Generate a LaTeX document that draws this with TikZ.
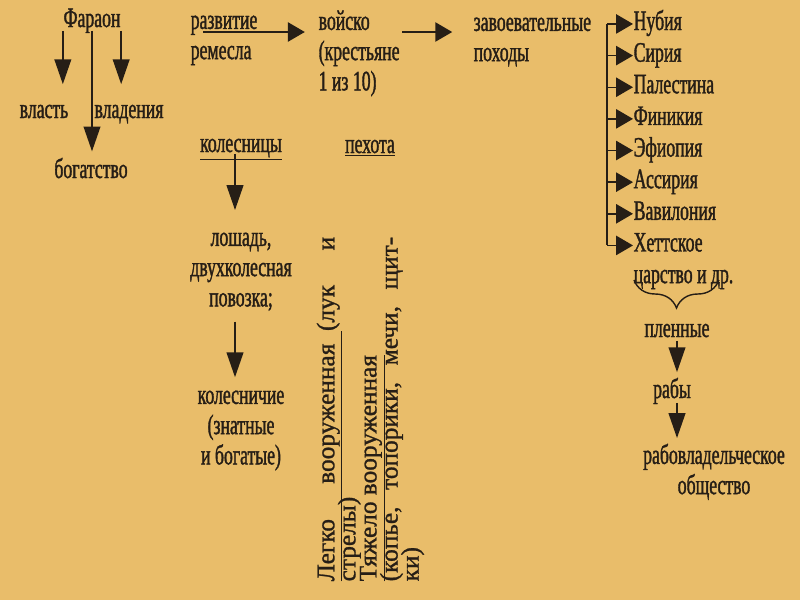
\documentclass[tikz,border=0pt]{standalone}
\usepackage{fontspec}
\setmainfont{Liberation Serif}[FakeStretch=0.63,FakeBold=1.3]
\newfontfamily\vertfont{Liberation Serif}[FakeBold=1]
\usetikzlibrary{arrows.meta,decorations.pathreplacing}
\definecolor{paper}{RGB}{233,189,106}
\definecolor{ink}{RGB}{38,30,22}
\tikzset{
  txt/.style={inner sep=0pt, font=\fontsize{20}{21.5}\selectfont, execute at begin node=\strut, execute at end node=\strut},
  hto/.style={-{Triangle[length=0.42cm,width=0.48cm]}}
}

\begin{document}
\begin{tikzpicture}[x=0.025cm,y=-0.025cm,color=ink,line width=1pt,>={Triangle[length=0.62cm,width=0.42cm]}]
        \fill[paper] (0,0) rectangle (800,600);
        \useasboundingbox (0,0) rectangle (800,600);

        \node[txt,anchor=base] (far) at (92,27) {Фараон};
        \node[txt,anchor=base] (vlast) at (44,118) {власть};
        \node[txt,anchor=base] (vlad) at (129,118) {владения};
        \node[txt,anchor=base] (bog) at (91,178) {богатство};
        \draw[->,shorten <=-0.15cm,shorten >=0.3cm] (far.south west) -- (far.south west |- vlast.north);
        \draw[->,shorten <=-0.15cm,shorten >=0.3cm] (far.south east) -- (far.south east |- vlad.north);
        \draw[->,shorten <=-0.15cm,shorten >=0.12cm] (far.south) -- (far.south |- bog.north);

        \node[txt,anchor=north west,align=left] (razv) at (190,7) {\strut развитие\\ремесла\strut};
        \node[txt,anchor=north west,align=left] (vois) at (318,8) {\strut войско\\(крестьяне\\1 из 10)\strut};
        \node[txt,anchor=north west,align=left] (zav) at (473,9) {\strut завоевательные\\походы\strut};
        \coordinate (r0) at (203,32);
        \coordinate (v0) at (402,32);
        \draw[hto,shorten >=0.33cm] (r0) -- (r0 -| vois.west);
        \draw[hto,shorten >=0.52cm] (v0) -- (v0 -| zav.west);

        \node[txt,anchor=base west] (nub) at (633,30) {Нубия};
        \node[txt,anchor=north west] (sir) at (nub.south west) {Сирия};
        \node[txt,anchor=north west] (pal) at (sir.south west) {Палестина};
        \node[txt,anchor=north west] (fin) at (pal.south west) {Финикия};
        \node[txt,anchor=north west] (efi) at (fin.south west) {Эфиопия};
        \node[txt,anchor=north west] (ass) at (efi.south west) {Ассирия};
        \node[txt,anchor=north west] (vav) at (ass.south west) {Вавилония};
        \node[txt,anchor=north west] (het) at (vav.south west) {Хеттское};
        \node[txt,anchor=north west] (carst) at (het.south west) {царство и др.};
        \coordinate (trunk) at (607,0);
        \draw (trunk |- nub.west) -- (trunk |- het.west);
        \draw[hto] (trunk |- nub.west) -- (nub.west);
        \draw[hto] (trunk |- sir.west) -- (sir.west);
        \draw[hto] (trunk |- pal.west) -- (pal.west);
        \draw[hto] (trunk |- fin.west) -- (fin.west);
        \draw[hto] (trunk |- efi.west) -- (efi.west);
        \draw[hto] (trunk |- ass.west) -- (ass.west);
        \draw[hto] (trunk |- vav.west) -- (vav.west);
        \draw[hto] (trunk |- het.west) -- (het.west);

        \coordinate (brL) at (634,280);
        \coordinate (brR) at (719,280);
        \draw[decorate,decoration={brace,mirror,amplitude=0.7cm}] (brL) -- (brR);
        \node[txt,anchor=base] (plen) at (677,337) {пленные};
        \node[txt,anchor=base] (rab) at (672,398) {рабы};
        \node[txt,anchor=north,align=center] (rob) at (714,442) {\strut рабовладельческое\\общество\strut};
        \draw[->,shorten <=-0.15cm,shorten >=0.1cm] (plen.south) -- (plen.south |- rab.north);
        \draw[->,shorten <=-0.12cm,shorten >=0.1cm] (plen.south |- rab.south) -- (plen.south |- rob.north);

        \node[txt,anchor=base] (kol) at (241,152) {\underline{колесницы}};
        \node[txt,anchor=base] (pekh) at (370,153) {\underline{пехота}};
        \node[txt,anchor=north,align=center] (losh) at (241,224) {\strut лошадь,\\двухколесная\\повозка;\strut};
        \node[txt,anchor=north,align=center] (kolch) at (241,382) {\strut колесничие\\(знатные\\и богатые)\strut};
        \draw[->,shorten <=-0.2cm,shorten >=0.35cm] ([xshift=-0.15cm]kol.south) -- ([xshift=-0.15cm]losh.north);
        \draw[->,shorten <=0.14cm,shorten >=0.12cm] ([xshift=-0.15cm]losh.south) -- ([xshift=-0.15cm]kolch.north);

        \node[rotate=90,anchor=north west,inner sep=0pt,font=\vertfont\fontsize{18}{15}\selectfont] (arms) at (316,582) {\parbox{245pt}{\baselineskip=15pt\lineskiplimit=-100pt
            \hbox to\hsize{\underline{\hbox to 178pt{Легко\hfill вооруженная\hspace{9pt}}}(лук\hfill и}
            \hbox{стрелы)}
            \hbox{\underline{Тяжело вооруженная}}
            \hbox to\hsize{(копье,\hfill топорики,\hfill мечи,\hfill щит-}
            \hbox{ки)}}};
\end{tikzpicture}
\end{document}
